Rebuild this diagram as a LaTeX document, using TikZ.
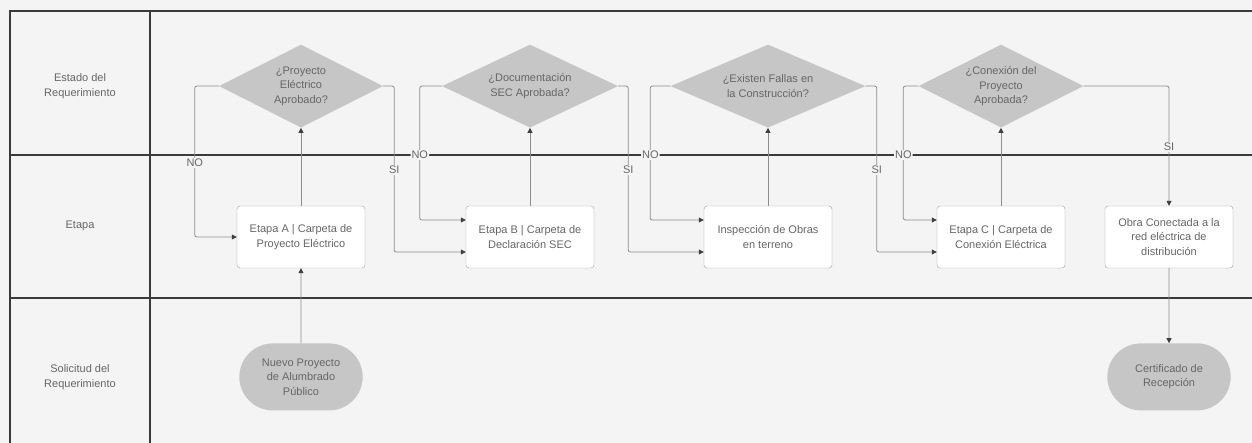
\documentclass[tikz,border=0pt]{standalone}
\usepackage{fontspec}
\setmainfont{Liberation Sans}
\usetikzlibrary{positioning, shapes.geometric, shapes.misc, arrows.meta}
\definecolor{lanegray}{HTML}{3A3A3A}
\definecolor{shapegray}{HTML}{C6C6C6}
\definecolor{linegray}{HTML}{8C8C8C}
\definecolor{txtgray}{HTML}{666666}
\definecolor{paper}{HTML}{F4F4F4}

\begin{document}
\begin{tikzpicture}[x=1pt, y=-1pt,
        font=\fontsize{11}{14.5}\selectfont,
        lane/.style={draw=lanegray, line width=1.1pt},
        lanelabel/.style={text=txtgray, align=center},
        stage/.style={draw=linegray!80, fill=white, rounded corners=3pt, minimum width=128pt,
                      minimum height=62pt, align=center, text=txtgray},
        decision/.style={diamond, aspect=2, fill=shapegray, inner sep=0pt, minimum height=83pt,
                         align=center, text=txtgray},
        terminal/.style={rounded rectangle, fill=shapegray, minimum width=130pt, minimum height=67pt,
                         align=center, text=txtgray},
        arr/.style={-{Triangle[length=5pt, width=5pt, color=black!75]}, linegray, line width=0.8pt,
                    rounded corners=2pt},
        answer/.style={fill=paper, inner sep=1pt, text=txtgray}]
    \fill[paper] (0,0) rectangle (1252,443);
    \useasboundingbox (0,0) rectangle (1252,443);

    % Swimlanes
    \draw[lane] (1252,11) -- (10,11) -- (10,443);
    \draw[lane] (150,11) -- (150,443);
    \draw[lane] (10,155) -- (1252,155);
    \draw[lane] (10,298) -- (1252,298);
    \node[lanelabel] (lestado) at (80,86) {Estado del\\Requerimiento};
    \node[lanelabel] (letapa) at (80,226) {Etapa};
    \node[lanelabel] (lsolicitud) at (80,377) {Solicitud del\\Requerimiento};

    % Stages
    \node[stage] (etapaA) at (301,237) {Etapa A | Carpeta de\\Proyecto Eléctrico};
    \node[stage] (etapaB) at (530,237) {Etapa B | Carpeta de\\Declaración SEC};
    \node[stage] (inspeccion) at (768,237) {Inspección de Obras\\en terreno};
    \node[stage] (etapaC) at (1001,237) {Etapa C | Carpeta de\\Conexión Eléctrica};
    \node[stage] (obra) at (1169,237) {Obra Conectada a la\\red eléctrica de\\distribución};

    % Decisions
    \node[decision, minimum width=164pt, above=78pt of etapaA] (qproyecto) {¿Proyecto\\Eléctrico\\Aprobado?};
    \node[decision, minimum width=176pt, above=78pt of etapaB] (qdocumentacion) {¿Documentación\\SEC Aprobada?};
    \node[decision, minimum width=195pt, above=78pt of inspeccion] (qfallas) {¿Existen Fallas en\\la Construcción?};
    \node[decision, minimum width=165pt, above=78pt of etapaC] (qconexion) {¿Conexión del\\Proyecto\\Aprobada?};

    % Start / end
    \node[terminal, below=75pt of etapaA] (nuevo) {Nuevo Proyecto\\de Alumbrado\\Público};
    \node[terminal, below=75pt of obra] (certificado) {Certificado de\\Recepción};

    % Flow
    \draw[arr] (nuevo) -- (etapaA);
    \draw[arr] (etapaA) -- (qproyecto);
    \draw[arr] (etapaB) -- (qdocumentacion);
    \draw[arr] (inspeccion) -- (qfallas);
    \draw[arr] (etapaC) -- (qconexion);
    \draw[arr] (obra) -- (certificado);

    \draw[arr] (qproyecto.west) -- ++(-24,0) |- (etapaA.west) node[answer, pos=0.255] {NO};
    \draw[arr] (qproyecto.east) -- ++(11,0) |- ([yshift=-15pt]etapaB.west) node[answer, pos=0.253] {SI};
    \draw[arr] (qdocumentacion.west) -- ++(-22,0) |- ([yshift=17pt]etapaB.west) node[answer, pos=0.257] {NO};
    \draw[arr] (qdocumentacion.east) -- ++(10,0) |- ([yshift=-15pt]inspeccion.west) node[answer, pos=0.253] {SI};
    \draw[arr] (qfallas.west) -- ++(-20,0) |- ([yshift=17pt]inspeccion.west) node[answer, pos=0.257] {NO};
    \draw[arr] (qfallas.east) -- ++(11,0) |- ([yshift=-15pt]etapaC.west) node[answer, pos=0.253] {SI};
    \draw[arr] (qconexion.west) -- ++(-15,0) |- ([yshift=17pt]etapaC.west) node[answer, pos=0.257] {NO};
    \draw[arr] (qconexion.east) -| (obra.north) node[answer, pos=0.754] {SI};
\end{tikzpicture}
\end{document}
